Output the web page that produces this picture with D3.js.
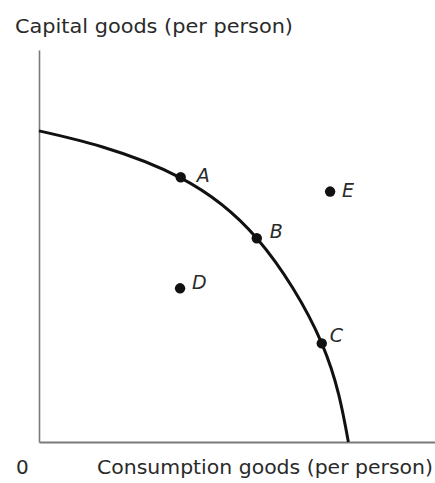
<!DOCTYPE html>
<html>
<head>
<meta charset="utf-8">
<script src="https://cdn.jsdelivr.net/npm/d3@7"></script>
<style>
	body { margin: 0; background: #fff; }
	text { font-family: "DejaVu Sans", "Lato", sans-serif; fill: #2a2a2a; }
</style>
</head>
<body>
<script>
"use strict";

// PPF (consumption, capital)
const ppfConsumption = [0, 2.03, 4.56, 7.04, 9.14, 10.0];
const ppfCapital     = [10.0, 9.49, 8.50, 6.55, 3.17, 0];

// Labelled points
const pointNames       = ["A", "B", "C", "D", "E"];
const pointConsumption = [4.58, 7.04, 9.14, 4.56, 9.41];
const pointCapital     = [8.51, 6.55, 3.17, 4.94, 8.05];

const yTitle = "Capital goods (per person)";
const xTitle = "Consumption goods (per person)";
const originLabel = "0";

function draw() {

	let width = 435,
		height = 483;

	let svg = d3.select("body")
		.append("svg")
			.attr("width", width)
			.attr("height", height);

	let xScale = d3.scaleLinear()
		.domain([0, 12.8])
		.range([39, 435]);

	let yScale = d3.scaleLinear()
		.domain([0, 12.6])
		.range([442, 50]);

	// axes, no ticks
	let xAxis = svg.append("g")
		.attr("transform", "translate(0," + yScale(0) + ")")
		.call(d3.axisBottom(xScale).tickValues([]).tickSizeOuter(0));

	let yAxis = svg.append("g")
		.attr("transform", "translate(" + xScale(0) + ",0)")
		.call(d3.axisLeft(yScale).tickValues([]).tickSizeOuter(0));

	xAxis.select(".domain").attr("stroke", "#7a7a7a").attr("stroke-width", 2);
	yAxis.select(".domain").attr("stroke", "#7a7a7a").attr("stroke-width", 1.6);

	// the frontier
	let ppf = ppfConsumption.map(function (c, i) { return [c, ppfCapital[i]]; });

	let line = d3.line()
		.x(function (d) { return xScale(d[0]); })
		.y(function (d) { return yScale(d[1]); })
		.curve(d3.curveNatural);

	svg.append("path")
		.datum(ppf)
		.attr("d", line)
		.attr("fill", "none")
		.attr("stroke", "#111")
		.attr("stroke-width", 3);

	// points
	let points = pointNames.map(function (n, i) {
		return { name: n, c: pointConsumption[i], k: pointCapital[i] };
	});

	let labelOffset = {
		A: [16, 5], B: [13, 0], C: [8, -1], D: [12, 1], E: [12, 5]
	};

	let pt = svg.selectAll(".pt")
		.data(points)
		.enter()
		.append("g")
			.classed("pt", true);

	pt.append("circle")
		.attr("cx", function (d) { return xScale(d.c); })
		.attr("cy", function (d) { return yScale(d.k); })
		.attr("r", 5.2)
		.attr("fill", "#111");

	pt.append("text")
		.attr("x", function (d) { return xScale(d.c) + labelOffset[d.name][0]; })
		.attr("y", function (d) { return yScale(d.k) + labelOffset[d.name][1]; })
		.attr("font-size", 19)
		.attr("font-style", "italic")
		.text(function (d) { return d.name; });

	// titles
	svg.append("text")
		.attr("x", 15)
		.attr("y", 33)
		.attr("font-size", 20)
		.attr("textLength", 278)
		.attr("lengthAdjust", "spacingAndGlyphs")
		.text(yTitle);

	svg.append("text")
		.attr("x", 16)
		.attr("y", 474)
		.attr("font-size", 20)
		.text(originLabel);

	svg.append("text")
		.attr("x", 97)
		.attr("y", 474)
		.attr("font-size", 20)
		.attr("textLength", 336)
		.attr("lengthAdjust", "spacingAndGlyphs")
		.text(xTitle);
};

draw();
</script>
</body>
</html>
